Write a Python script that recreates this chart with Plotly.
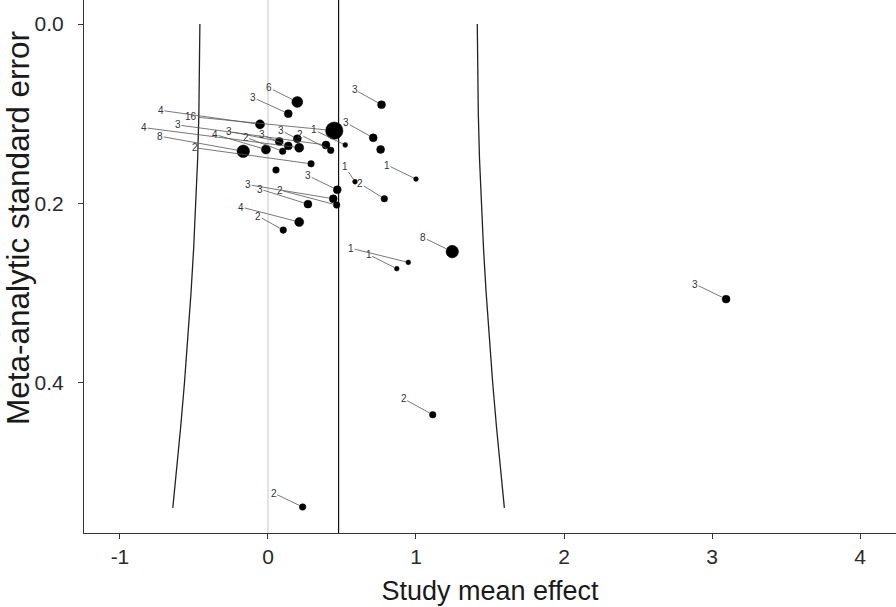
import math
import plotly.graph_objects as go

# ---- data ----
effect = [0.198, 0.137, 0.767, 0.448, -0.054, 0.522, 0.711, 0.761, -0.167,
          -0.014, 0.076, 0.099, 0.137, 0.198, 0.211, 0.291, 0.392, 0.424, 0.054,
          1.000, 0.588, 0.786, 0.468, 0.441, 0.464, 0.270, 0.211, 0.103,
          0.948, 0.870, 1.245, 3.095, 1.113, 0.234]
std_err = [0.087, 0.100, 0.090, 0.119, 0.112, 0.135, 0.127, 0.140, 0.142,
           0.140, 0.131, 0.142, 0.136, 0.128, 0.138, 0.156, 0.135, 0.141, 0.163,
           0.173, 0.176, 0.195, 0.185, 0.195, 0.202, 0.201, 0.221, 0.230,
           0.266, 0.273, 0.254, 0.307, 0.436, 0.539]
n_effects = [6, 3, 3, 16, 4, 1, 3, 3, 8,
             4, 3, 2, 3, 3, 4, 2, 3, 2, 2,
             1, 1, 2, 3, 3, 2, 3, 4, 2,
             1, 1, 8, 3, 2, 2]
show_label = [True, True, True, True, True, True, True, False, True,
              True, True, True, True, True, True, True, True, True, False,
              True, True, True, True, True, True, True, True, True,
              True, True, True, True, True, True]

mean_effect = 0.477

# funnel boundaries
funnel_se = [0.0, 0.05, 0.10, 0.15, 0.20, 0.25, 0.30, 0.35, 0.40, 0.45, 0.50, 0.54]
funnel_left = [-0.460, -0.462, -0.467, -0.475, -0.487, -0.502, -0.520, -0.541,
               -0.564, -0.590, -0.619, -0.643]
funnel_right = [1.414, 1.416, 1.421, 1.429, 1.441, 1.456, 1.474, 1.495, 1.518,
                1.544, 1.573, 1.597]

x_ticks = [-1, 0, 1, 2, 3, 4]
x_tick_text = ["-1", "0", "1", "2", "3", "4"]
y_ticks = [0.0, 0.2, 0.4]
y_tick_text = ["0.0", "0.2", "0.4"]
x_title = "Study mean effect"
y_title = "Meta-analytic standard error"

# ---- layout-only: label offsets in pixels (repelled label placement) ----
label_dx = [-28, -35, -27, -143, -99, -31, -27, 0, -83,
            -51, -50, -37, -26, -16, -155, -116, -148, -31, 0,
            -29, -10, -24, -29, -85, -57, -48, -58, -25,
            -57, -28, -29, -31, -29, -29]
label_dy = [-14, -16, -15, -14, -14, -15, -15, 0, -15,
            -15, -10, -14, -11, -8, -20, -16, -20, -16, 0,
            -14, -15, -15, -14, -14, -15, -15, -15, -14,
            -14, -14, -14, -15, -16, -14]

FONT = "Liberation Sans, Arial, sans-serif"


def marker_diam(k):
    return 2 * (math.sqrt(4.33 * k - 0.33) + 0.4)


sizes = [marker_diam(k) for k in n_effects]

fig = go.Figure()

fig.add_trace(go.Scatter(x=funnel_left, y=funnel_se, mode="lines",
                         line=dict(color="#222222", width=1.3), hoverinfo="skip"))
fig.add_trace(go.Scatter(x=funnel_right, y=funnel_se, mode="lines",
                         line=dict(color="#222222", width=1.3), hoverinfo="skip"))

fig.add_trace(go.Scatter(x=effect, y=std_err, mode="markers", opacity=1,
                         marker=dict(color="#000000", size=sizes, opacity=1,
                                     line=dict(width=0.5, color="#000000")),
                         hoverinfo="skip"))

fig.add_vline(x=0, line=dict(color="#c8c8c8", width=1), layer="below")
fig.add_vline(x=mean_effect, line=dict(color="#111111", width=1.2), layer="below")

for xi, yi, k, s, show, dx, dy in zip(effect, std_err, n_effects, sizes,
                                      show_label, label_dx, label_dy):
    if not show:
        continue
    fig.add_annotation(x=xi, y=yi, text=str(k), showarrow=True,
                       ax=dx, ay=dy, axref="pixel", ayref="pixel",
                       arrowhead=0, arrowwidth=0.8, arrowcolor="#555555",
                       standoff=s / 2, startstandoff=0,
                       font=dict(family=FONT, size=10, color="#333333"),
                       borderpad=0)

# y-axis title as rotated text (reference image is cropped at the top)
fig.add_annotation(xref="paper", yref="paper", x=0, y=(533 - 228) / 533,
                   xshift=-66, text=y_title, textangle=-90, showarrow=False,
                   xanchor="center", yanchor="middle",
                   font=dict(family=FONT, size=31.5, color="#1a1a1a"))

fig.update_layout(
    width=896, height=607,
    margin=dict(l=84, r=0, t=0, b=74, autoexpand=False),
    paper_bgcolor="white", plot_bgcolor="white",
    showlegend=False,
    font=dict(family=FONT, color="#222222"),
)
fig.update_xaxes(range=[-1.243, 4.243], tickvals=x_ticks, ticktext=x_tick_text,
                 automargin=False,
                 ticks="outside", ticklen=5, tickcolor="#333333", tickwidth=1,
                 ticklabelstandoff=0,
                 showline=True, linecolor="#333333", linewidth=1,
                 showgrid=False, zeroline=False,
                 tickfont=dict(size=21, color="#2a2a2a"),
                 title=dict(text=x_title, font=dict(size=27, color="#1a1a1a"),
                            standoff=13))
fig.update_yaxes(range=[0.568, -0.0268], tickvals=y_ticks, ticktext=y_tick_text,
                 automargin=False,
                 ticks="outside", ticklen=5, tickcolor="#333333", tickwidth=1,
                 ticklabelstandoff=10,
                 showline=True, linecolor="#333333", linewidth=1,
                 showgrid=False, zeroline=False,
                 tickfont=dict(size=21, color="#2a2a2a"))

fig.write_html("out.html", config={"displayModeBar": False},
               post_script="document.body.style.margin='0px';document.body.style.padding='0px';")
